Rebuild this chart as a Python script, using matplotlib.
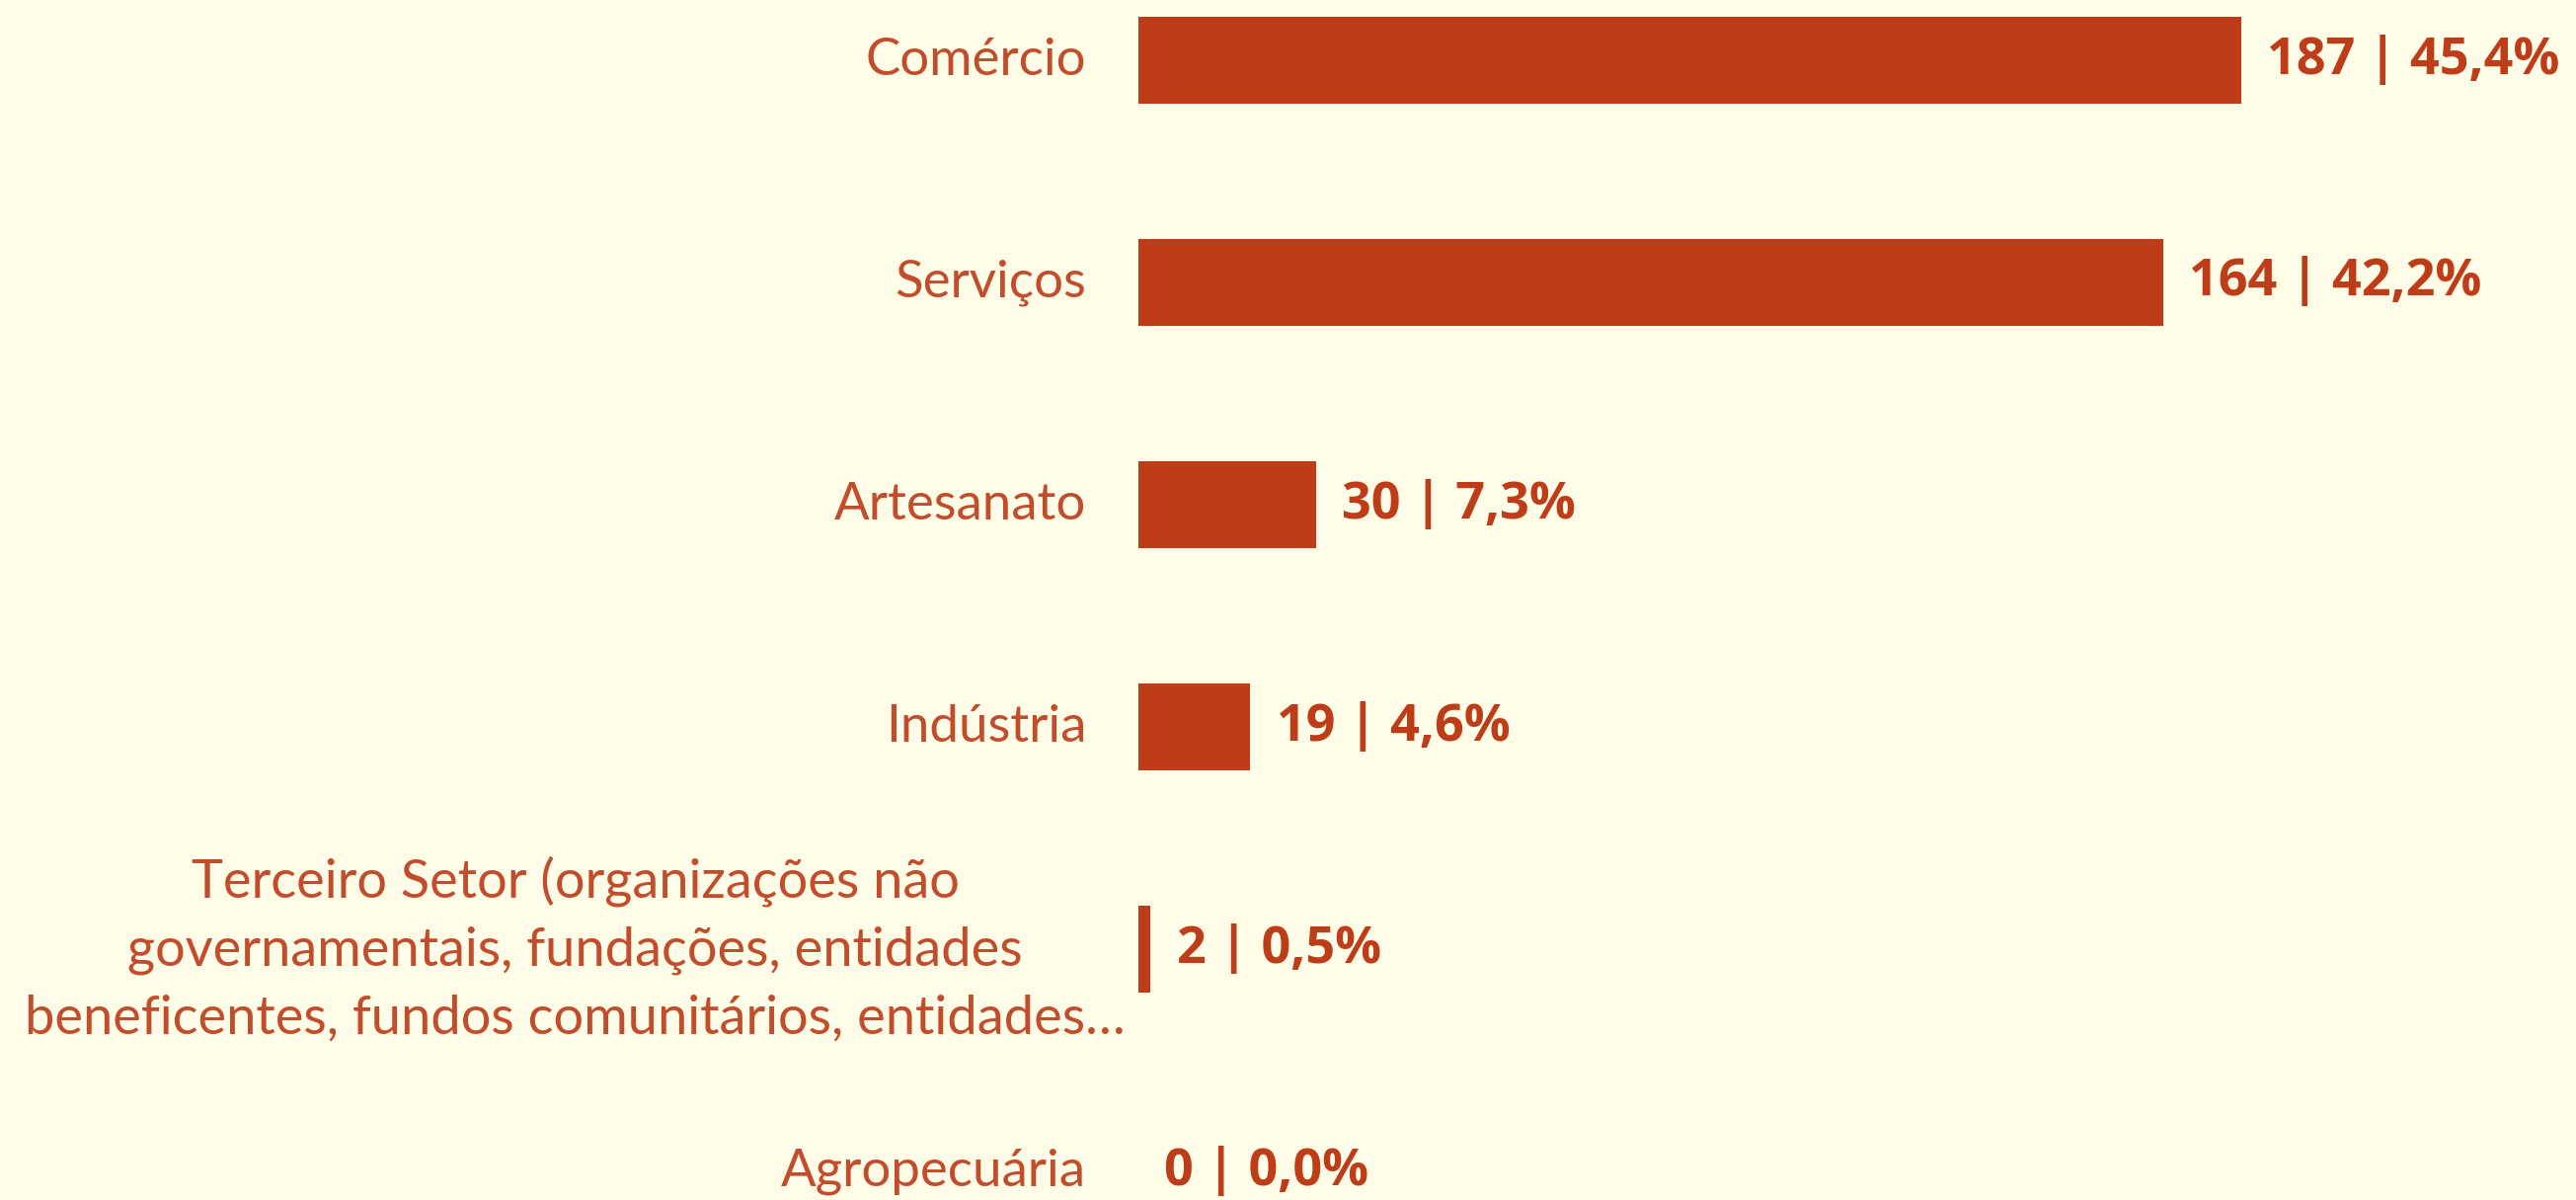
import matplotlib
matplotlib.use("Agg")
import matplotlib.pyplot as plt

categories = [
    "Comércio",
    "Serviços",
    "Artesanato",
    "Indústria",
    "Terceiro Setor (organizações não\ngovernamentais, fundações, entidades\nbeneficentes, fundos comunitários, entidades…",
    "Agropecuária",
]
counts = [187, 164, 30, 19, 2, 0]
percents = [45.4, 42.2, 7.3, 4.6, 0.5, 0.0]
value_labels = ["187 | 45,4%", "164 | 42,2%", "30 | 7,3%", "19 | 4,6%", "2 | 0,5%", "0 | 0,0%"]

BG = "#FFFCE7"
BAR = "#BE3C18"
LAB = "#C24D2C"

W, H, DPI = 2609, 1215, 100
fig = plt.figure(figsize=(W / DPI, H / DPI), dpi=DPI, facecolor=BG)
ax = fig.add_axes([1153 / W, 0, 1 - 1153 / W, 1])
ax.set_facecolor(BG)

y = list(range(len(categories)))
ax.barh(y, percents, height=0.39, color=BAR)
ax.set_xlim(0, 59.2)
ax.set_ylim(5 + 29 / 225, -61 / 225)
for s in ax.spines.values():
    s.set_visible(False)
ax.set_xticks([])
ax.set_yticks([])

tr = ax.get_yaxis_transform()
axw = W - 1153
for i, cat in enumerate(categories):
    if "\n" in cat:
        ax.text((1140 - 1153) / axw, i, cat, transform=tr, ha="right", va="center",
                multialignment="center", fontsize=39, family="Lato", color=LAB,
                linespacing=1.5)
    else:
        ax.text((1100 - 1153) / axw, i, cat, transform=tr, ha="right", va="center",
                fontsize=38, family="Lato", color=LAB)
    ax.annotate(value_labels[i], xy=(percents[i], i), xytext=(19, 0),
                textcoords="offset points", ha="left", va="center",
                fontsize=37.5, family="Open Sans", fontweight="bold", color=BAR)

fig.savefig("out.png", dpi=DPI, facecolor=BG)
